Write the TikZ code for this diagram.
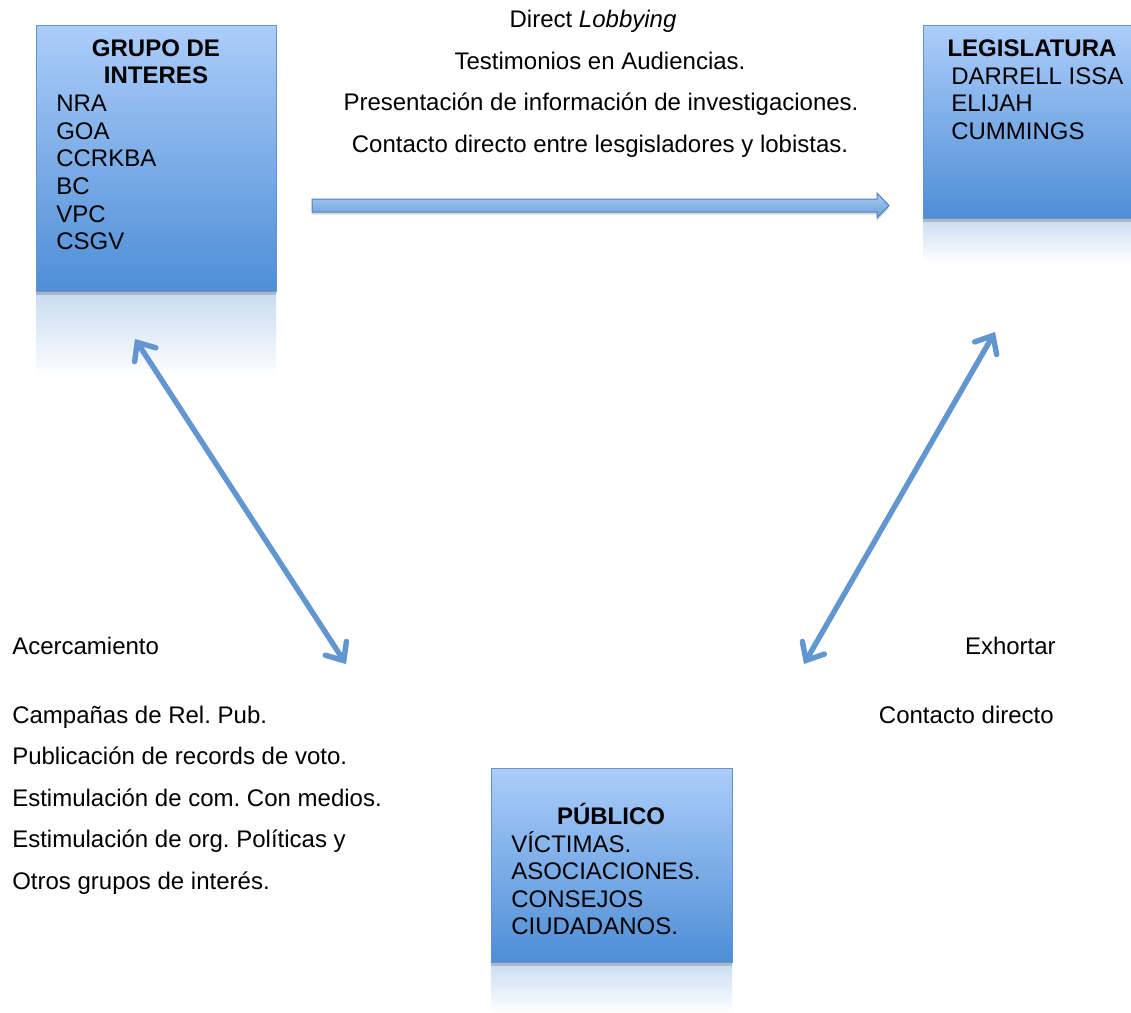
\documentclass[tikz,border=0pt]{standalone}
\usepackage{fontspec}
\setmainfont{Liberation Sans}
\frenchspacing
\usetikzlibrary{arrows.meta,shadows}
\definecolor{boxtop}{RGB}{172,205,250}
\definecolor{boxbot}{RGB}{78,142,214}
\definecolor{boxedge}{RGB}{100,148,205}
\definecolor{arrowc}{RGB}{98,150,208}
\definecolor{reflc}{RGB}{200,219,242}
\definecolor{barrowtop}{RGB}{172,202,242}
\definecolor{barrowbot}{RGB}{105,157,220}
\definecolor{barrowedge}{RGB}{80,130,195}
\tikzset{
  txt/.style={font=\fontsize{18}{21}\selectfont, inner sep=0pt, text=black},
  hd/.style={txt, font=\fontsize{18}{21}\selectfont\bfseries, anchor=base},
  item/.style={txt, anchor=base west},
  boxnode/.style={draw=boxedge, line width=0.75pt, top color=boxtop, bottom color=boxbot,
    inner sep=0pt, drop shadow={opacity=0.4, shadow xshift=0pt, shadow yshift=-3pt}},
  refl/.style={top color=reflc, bottom color=white, draw=none},
  dbl/.style={draw=arrowc, line width=4pt, line cap=round, {Straight Barb[length=11pt,width=19pt,line cap=round]}-{Straight Barb[length=11pt,width=19pt,line cap=round]}},
  dblshadow/.style={dbl, draw=black, opacity=0.12, xshift=1pt, yshift=-1.5pt},
  blockarrow/.style={draw=barrowedge, line width=0.75pt, top color=barrowtop, bottom color=barrowbot,
    drop shadow={opacity=0.3, shadow xshift=0pt, shadow yshift=-2pt}}
}
\begin{document}
\begin{tikzpicture}[x=0.75pt,y=-0.75pt]
\clip (0,0) rectangle (1131,1013);
\fill[white] (0,0) rectangle (1131,1013);

% reflections
\shade[refl] (36,291) rectangle (276,378);
\shade[refl] (923,218) rectangle (1140,262);
\shade[refl] (491,962) rectangle (732,1013);

% boxes
\node[boxnode, minimum width=180pt, minimum height=198.75pt] (grupo) at (156,158.5) {};
\node[boxnode, minimum width=162.75pt, minimum height=144pt] (legis) at (1031.5,122) {};
\node[boxnode, minimum width=180.75pt, minimum height=145.5pt] (publico) at (611.5,865) {};

% grupo text
\node[hd] (g1) at (156,56.5) {GRUPO DE};
\node[hd] (g2) at (156,84) {INTERES};
\foreach \t [count=\i] in {NRA,GOA,CCRKBA,BC,VPC,CSGV}
  \node[item] (gi\i) at (56,{84+27.6*\i}) {\t};

% legislatura text
\node[hd] (l1) at (1032,56.5) {LEGISLATURA};
\foreach \t [count=\i] in {DARRELL ISSA,ELIJAH,CUMMINGS}
  \node[item] (li\i) at (951,{56.5+27.6*\i}) {\t};

% publico text
\node[hd] (p1) at (611,824.5) {PÚBLICO};
\foreach \t [count=\i] in {VÍCTIMAS.,ASOCIACIONES.,CONSEJOS,CIUDADANOS.}
  \node[item] (pi\i) at (511,{824.5+27.6*\i}) {\t};

% block arrow
\coordinate (ba1) at (312,199);
\coordinate (ba2) at (889,205.5);
\path[blockarrow] (ba1) -- (877,199) -- (877,193) -- (ba2) -- (877,218) -- (877,212) -- (312,212) -- cycle;

% top texts
\node[txt, anchor=base] (t0) at (593,28) {Direct \textit{Lobbying}};
\node[txt, anchor=base] (t1) at (600,69.5) {Testimonios en Audiencias.};
\node[txt, anchor=base] (t2) at (601,111) {Presentación de información de investigaciones.};
\node[txt, anchor=base] (t3) at (600,152.5) {Contacto directo entre lesgisladores y lobistas.};

% double arrows
\coordinate (la1) at (135,339);
\coordinate (la2) at (346,664);
\coordinate (ra1) at (995,332);
\coordinate (ra2) at (804,664);
\draw[dblshadow] (la1) -- (la2);
\draw[dblshadow] (ra1) -- (ra2);
\draw[dbl] (la1) -- (la2);
\draw[dbl] (ra1) -- (ra2);

% left texts
\node[item] (acer) at (12,654) {Acercamiento};
\foreach \t [count=\i] in {Campañas de Rel. Pub.,Publicación de records de voto.,Estimulación de com. Con medios.,Estimulación de org. Políticas y,Otros grupos de interés.}
  \node[item] (le\i) at (12,{681.5+41.5*\i}) {\t};

% right texts
\node[txt, anchor=base east] (exh) at (1056,654) {Exhortar};
\node[txt, anchor=base east] (cd) at (1054,723) {Contacto directo};
\end{tikzpicture}
\end{document}
